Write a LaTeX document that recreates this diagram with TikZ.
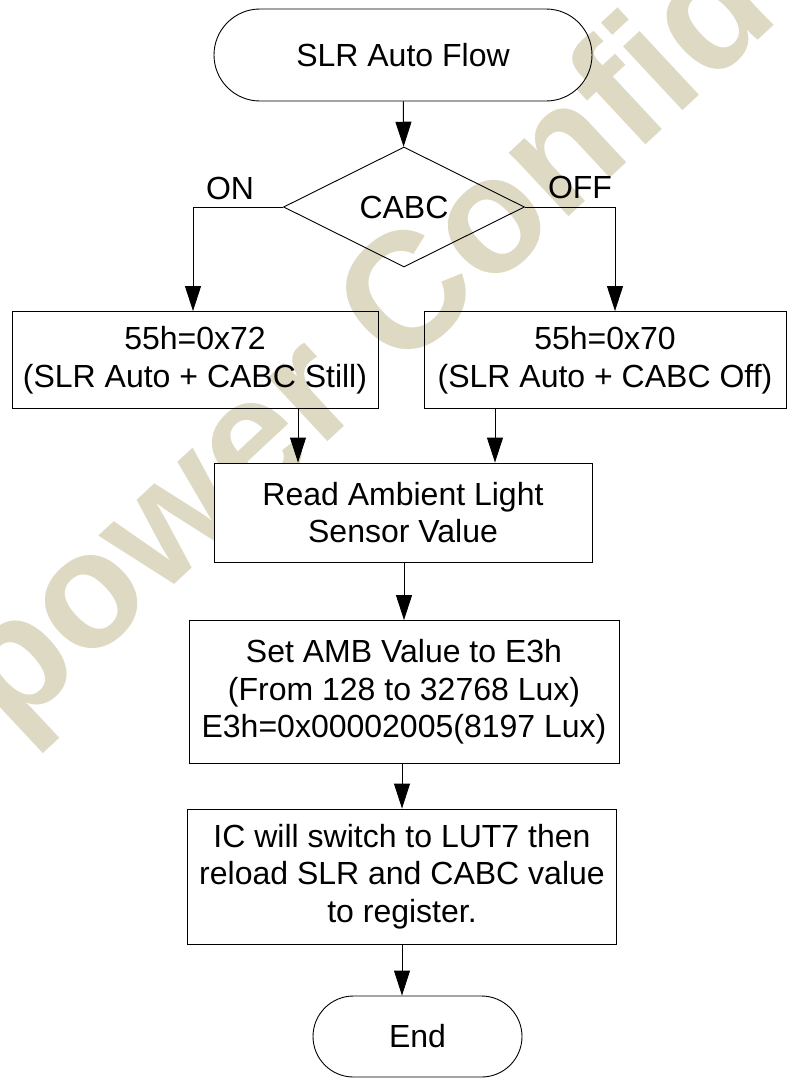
\documentclass[tikz,border=0pt]{standalone}
\usepackage{fontspec}
\setmainfont{Liberation Sans}
\usepackage{tikz}
\usetikzlibrary{arrows.meta,shapes.geometric,shapes.misc,calc}
\usepackage{xcolor}
\definecolor{wmbeige}{RGB}{222,217,195}
\newcommand{\flowfont}{\fontsize{32}{37.5}\selectfont}
\newcommand{\wmfont}{\fontsize{165}{170}\selectfont\bfseries}

\begin{document}
\begin{tikzpicture}[x=1pt,y=-1pt,
  flowline/.style={line width=0.9pt},
  procbox/.style={draw, flowline, rectangle, inner sep=0pt, align=center, font=\flowfont},
  termbox/.style={draw, flowline, rounded rectangle, inner sep=0pt, align=center, font=\flowfont},
  decbox/.style={draw, flowline, diamond, inner sep=0pt, font=\flowfont},
  arr/.style={flowline, -{Triangle[length=25pt,width=16pt]}}]
  \fill[white] (0,0) rectangle (792,1080);
  \useasboundingbox (0,0) rectangle (792,1080);
  % watermark
  \begin{scope}
    \clip (0,0) rectangle (792,1080);
    \node[wmbeige, font=\wmfont, rotate=43, anchor=base west, inner sep=0pt] (wmark) at (11,737) {power Confidential};
  \end{scope}
  \node[termbox, minimum width=378pt, minimum height=92pt] (start) at (403,55) {SLR Auto Flow};
  \node[decbox, minimum width=241pt, minimum height=120pt] (cabc) at (404,207) {CABC};
  \node[procbox, minimum width=366pt, minimum height=97pt] (regon) at (195,360) {55h=0x72\\(SLR Auto + CABC Still)};
  \node[procbox, minimum width=362pt, minimum height=97pt] (regoff) at (605,360) {55h=0x70\\(SLR Auto + CABC Off)};
  \node[procbox, fill=white, minimum width=378pt, minimum height=99pt] (readals) at (403,512.5) {Read Ambient Light\\Sensor Value};
  \node[procbox, minimum width=430pt, minimum height=143pt] (setamb) at (404,692) {Set AMB Value to E3h\\(From 128 to 32768 Lux)\\E3h=0x00002005(8197 Lux)};
  \node[procbox, minimum width=429pt, minimum height=135pt] (reload) at (402,876.5) {IC will switch to LUT7 then\\reload SLR and CABC value\\to register.};
  \node[termbox, minimum width=209pt, minimum height=81pt] (finish) at (417.5,1036.5) {End};
  \node[font=\flowfont] (onlbl) at (230,188) {ON};
  \node[font=\flowfont] (offlbl) at (580,187) {OFF};
  \coordinate (inl) at (298,463);
  \coordinate (inr) at (495,463);
  \coordinate (offx) at (615,0);
  % connectors
  \draw[arr] (start) -- (cabc);
  \draw[arr] (cabc.west) -| ($(regon.north)+(-2,0)$);
  \draw[arr] (cabc.east) -| (offx |- regoff.north);
  \draw[arr] (regon.south -| inl) -- (inl |- readals.north);
  \draw[arr] (regoff.south -| inr) -- (inr |- readals.north);
  \draw[arr] (readals.south -| setamb.north) -- (setamb.north);
  \draw[arr] (setamb.south -| reload.north) -- (reload.north);
  \draw[arr] (reload.south) -- (reload.south |- finish.north);
\end{tikzpicture}
\end{document}
